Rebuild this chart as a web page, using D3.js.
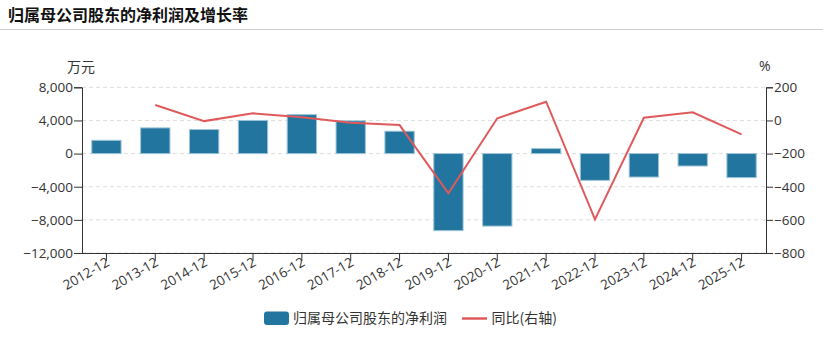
<!DOCTYPE html>
<html><head><meta charset="utf-8">
<script src="https://cdn.jsdelivr.net/npm/d3@7/dist/d3.min.js"></script>
<style>
body{margin:0;background:#fff;}
</style></head>
<body><svg id="c" width="823" height="340"></svg>
<script>
const categories = ["2012-12","2013-12","2014-12","2015-12","2016-12","2017-12","2018-12","2019-12","2020-12","2021-12","2022-12","2023-12","2024-12","2025-12"];
const netProfit = [1600,3100,2900,4000,4700,3950,2700,-9300,-8750,600,-3230,-2830,-1500,-2900];
const yoy = [null,93,-4,43,19,-14,-28,-440,13,113,-597,16,49,-84];
const leftTicks = [8000,4000,0,-4000,-8000,-12000];
const rightTicks = [200,0,-200,-400,-600,-800];

const svg = d3.select("#c");
const font = '"Open Sans","Noto Sans CJK SC", sans-serif';
const cjk = '"Noto Sans CJK SC", sans-serif';
const L = 82, R = 766, T = 87.3, B = 253;
const txt = "#333";

svg.append("text").attr("x",8).attr("y",21).attr("font-family",cjk)
  .attr("font-size",16).attr("font-weight","bold").attr("fill","#111").text("归属母公司股东的净利润及增长率");
svg.append("line").attr("x1",0).attr("x2",823).attr("y1",29.5).attr("y2",29.5).attr("stroke","#ccc").attr("stroke-width",1);

const x = d3.scaleBand().domain(categories).range([L,R]).paddingInner(0.4).paddingOuter(0.2);
const xc = d => x(d) + x.bandwidth()/2;
const yL = d3.scaleLinear().domain([-12000,8000]).range([B,T]);
const yR = d3.scaleLinear().domain([-800,200]).range([B,T]);

// grid
svg.append("g").selectAll("line").data(leftTicks).join("line")
  .attr("x1",L).attr("x2",R).attr("y1",d=>yL(d)).attr("y2",d=>yL(d))
  .attr("stroke","#ddd").attr("stroke-dasharray","4,3");

// bars
svg.append("g").selectAll("rect").data(netProfit).join("rect")
  .attr("x",(d,i)=>x(categories[i])).attr("width",x.bandwidth())
  .attr("y",d=>yL(Math.max(0,d))).attr("height",d=>Math.abs(yL(d)-yL(0)))
  .attr("fill","#22759f").attr("stroke","#9cc3d8").attr("stroke-width",1);

// line
const pts = yoy.map((v,i)=>({v,c:categories[i]})).filter(p=>p.v!==null);
svg.append("path").datum(pts)
  .attr("d",d3.line().x(p=>xc(p.c)).y(p=>yR(p.v)))
  .attr("fill","none").attr("stroke","#e05a5b").attr("stroke-width",2);

// axes
const axL = svg.append("g").attr("transform",`translate(${L},0)`)
  .call(d3.axisLeft(yL).tickValues(leftTicks).tickFormat(d3.format(",")).tickSizeOuter(0).tickSize(8).tickPadding(1));
const axR = svg.append("g").attr("transform",`translate(${R},0)`)
  .call(d3.axisRight(yR).tickValues(rightTicks).tickSizeOuter(0).tickSize(7).tickPadding(1));
const axB = svg.append("g").attr("transform",`translate(0,${B})`)
  .call(d3.axisBottom(x).tickSizeOuter(0).tickSize(8));
axB.select(".domain").attr("d",`M${L},0.5H${R}`);
[axL,axR,axB].forEach(a=>{
  a.selectAll(".domain").attr("stroke","#333");
  a.selectAll(".tick line").attr("stroke","#333");
  a.selectAll("text").attr("font-family",font).attr("font-size",13.5).attr("fill",txt);
});
axB.selectAll(".tick text").attr("text-anchor","end").attr("dy","0").attr("y",0)
  .attr("transform","translate(4,12) rotate(-30)");

svg.append("text").attr("x",67).attr("y",72).attr("font-family",cjk).attr("font-size",14).attr("fill",txt).text("万元");
svg.append("text").attr("x",759).attr("y",71).attr("font-family",font).attr("font-size",14).attr("fill",txt).text("%");

// legend
const lg = svg.append("g");
lg.append("rect").attr("x",264).attr("y",311.5).attr("width",25).attr("height",13.5).attr("rx",3).attr("fill","#22759f");
lg.append("text").attr("x",293).attr("y",323).attr("font-family",cjk).attr("font-size",14).attr("fill",txt).text("归属母公司股东的净利润");
lg.append("line").attr("x1",462).attr("x2",487).attr("y1",318.5).attr("y2",318.5).attr("stroke","#e05a5b").attr("stroke-width",2.5);
lg.append("text").attr("x",491.5).attr("y",323).attr("font-family",cjk).attr("font-size",14).attr("fill",txt).text("同比(右轴)");
</script></body></html>
